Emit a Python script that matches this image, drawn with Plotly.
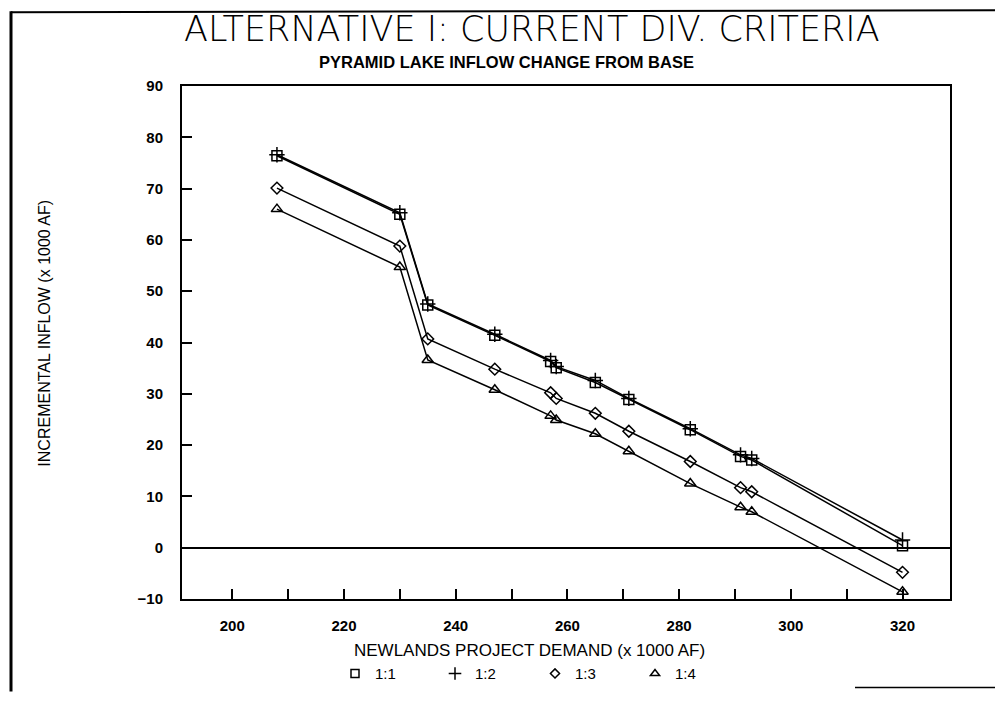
import plotly.graph_objects as go

# ---- data ----
demand = [208, 230, 235, 247, 257, 258, 265, 271, 282, 291, 293, 320]
ratio_1_1 = [76.4, 65.0, 47.3, 41.4, 36.3, 35.1, 32.2, 28.9, 23.0, 17.8, 17.1, 0.4]
ratio_1_2 = [76.6, 65.3, 47.5, 41.6, 36.5, 35.3, 32.6, 29.1, 23.2, 18.1, 17.4, 1.5]
ratio_1_3 = [70.1, 58.8, 40.7, 34.8, 30.2, 29.1, 26.2, 22.7, 16.8, 11.7, 10.9, -4.8]
ratio_1_4 = [66.0, 54.7, 36.6, 30.8, 25.7, 24.9, 22.2, 18.8, 12.5, 7.9, 7.0, -8.6]
series_names = ["1:1", "1:2", "1:3", "1:4"]
x_ticks = [200, 220, 240, 260, 280, 300, 320]
y_ticks = [-10, 0, 10, 20, 30, 40, 50, 60, 70, 80, 90]

FONT = "Liberation Sans, Arial, sans-serif"
W, H = 995, 702
L, R, T, B = 182, 45, 86, 94
PW, PH = W - L - R, H - T - B


def px(x):
    return (x - L) / PW


def py(y):
    return (H - B - y) / PH


fig = go.Figure()
styles = [
    dict(symbol="square-open", size=10),
    dict(symbol="cross-thin-open", size=11),
    dict(symbol="diamond-open", size=9),
    dict(symbol="triangle-up-open", size=10),
]
all_series = [ratio_1_1, ratio_1_2, ratio_1_3, ratio_1_4]
for name, vals, st in zip(series_names, all_series, styles):
    fig.add_trace(go.Scatter(
        x=demand, y=vals, mode="lines+markers", name=name, showlegend=False,
        line=dict(color="black", width=1.5),
        marker=dict(symbol=st["symbol"], size=st["size"], color="black",
                    line=dict(color="black", width=1.5)),
    ))
    # marker-only entry for the legend
    fig.add_trace(go.Scatter(
        x=[None], y=[None], mode="markers", name=name, showlegend=True,
        marker=dict(symbol=st["symbol"], size=st["size"] - 2, color="black",
                    line=dict(color="black", width=1.5)),
    ))

fig.update_layout(
    width=W, height=H,
    margin=dict(l=L, r=R, t=T, b=B),
    paper_bgcolor="white", plot_bgcolor="white",
    font=dict(family=FONT, color="black", size=14),
    showlegend=True,
    legend=dict(orientation="h", x=px(335), y=py(684), xanchor="left", yanchor="middle",
                font=dict(family=FONT, size=15), itemwidth=30,
                entrywidth=55, bgcolor="rgba(0,0,0,0)", tracegroupgap=0),
    xaxis=dict(range=[191, 328.5], tickvals=x_ticks, ticks="inside", ticklen=10,
               tickwidth=1.5, tickcolor="black", ticklabelstandoff=12,
               minor=dict(dtick=10, tick0=200, ticks="inside", ticklen=10,
                          tickwidth=1.5, tickcolor="black"),
               showline=True, linecolor="black", linewidth=2, mirror=True,
               showgrid=False, zeroline=False,
               tickfont=dict(family=FONT, size=15, weight="bold")),
    yaxis=dict(range=[-10, 90], tickvals=y_ticks, ticks="inside", ticklen=10,
               tickwidth=1.5, tickcolor="black", ticklabelstandoff=14,
               showline=True, linecolor="black", linewidth=2, mirror=True,
               showgrid=False, zeroline=True, zerolinecolor="black", zerolinewidth=1.5,
               tickfont=dict(family=FONT, size=15, weight="bold")),
)

annotations = [
    dict(text="ALTERNATIVE I: CURRENT DIV. CRITERIA", x=px(532), y=py(28),
         font=dict(family="DejaVu Sans, sans-serif", size=35, weight=200)),
    dict(text="PYRAMID LAKE INFLOW CHANGE FROM BASE", x=px(506), y=py(62),
         font=dict(family="Liberation Sans Narrow, Liberation Sans, sans-serif", size=16.5, weight="bold")),
    dict(text="NEWLANDS PROJECT DEMAND (x 1000 AF)", x=px(529), y=py(660),
         font=dict(family=FONT, size=17)),
    dict(text="INCREMENTAL INFLOW (x 1000 AF)", x=px(45), y=py(338), textangle=-90,
         font=dict(family=FONT, size=16)),
]
for a in annotations:
    fig.add_annotation(xref="paper", yref="paper", showarrow=False,
                       xanchor="center", yanchor="middle", **a)

# page border lines of the scanned sheet
shapes = [
    dict(x0=px(11), x1=px(11), y0=py(10), y1=py(702), width=3),
    dict(x0=px(11), x1=px(995), y0=py(11), y1=py(9), width=2),
    dict(x0=px(855), x1=px(995), y0=py(698), y1=py(698), width=1.5),
]
for s in shapes:
    fig.add_shape(type="line", xref="paper", yref="paper",
                  x0=s["x0"], x1=s["x1"], y0=s["y0"], y1=s["y1"],
                  line=dict(color="black", width=s["width"]))

fig.write_html("out.html")
